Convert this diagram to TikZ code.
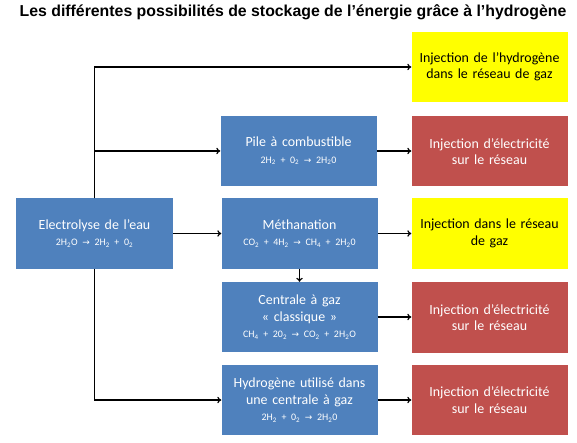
\documentclass[tikz,border=0pt]{standalone}
\usepackage{fontspec}
\setmainfont{Carlito}
\newfontfamily\titlefont{Liberation Sans}
\newfontfamily\djv{DejaVu Sans}
\usetikzlibrary{arrows.meta}
\definecolor{boxblue}{HTML}{4F81BD}
\definecolor{boxred}{HTML}{C0504D}
\definecolor{boxyellow}{HTML}{FFFF00}
\newcommand\sbs[1]{\textsubscript{#1}}
\newcommand\rarr{{\djv\fontsize{9}{10}\selectfont →}}
\newcommand\eqline[1]{{\fontsize{10}{11}\selectfont #1}}
\tikzset{
  basebox/.style={minimum width=156bp, minimum height=70bp, text width=152bp, align=center, inner sep=0pt, font=\fontsize{14}{16.5}\selectfont},
  bluebox/.style={basebox, fill=boxblue, text=white},
  redbox/.style={basebox, fill=boxred, text=white},
  yellowbox/.style={basebox, fill=boxyellow, text=black},
  conn/.style={line width=1.2pt, -{To[length=4pt,width=6.5pt]}}
}
\begin{document}
\begin{tikzpicture}[x=1bp,y=-1bp]
\useasboundingbox (0,0) rectangle (577,443);
\node[font=\titlefont\bfseries\fontsize{15.9}{18}\selectfont] (title) at (293,12) {Les différentes possibilités de stockage de l’énergie grâce à l’hydrogène};

\node[bluebox, minimum width=157bp] (elec) at (94.5,233.5) {Electrolyse de l’eau\\ \eqline{2H\sbs{2}O \rarr\ 2H\sbs{2} + 0\sbs{2}}};
\node[bluebox] (pile) at (298.5,151) {Pile à combustible\\ \eqline{2H\sbs{2} + 0\sbs{2} \rarr\ 2H\sbs{2}0}};
\node[bluebox] (meth) at (299.5,233.5) {Méthanation\\ \eqline{CO\sbs{2} + 4H\sbs{2} \rarr\ CH\sbs{4} + 2H\sbs{2}0}};
\node[bluebox] (cent) at (299.5,317) {Centrale à gaz\\ « classique »\\ \eqline{CH\sbs{4} + 20\sbs{2} \rarr\ CO\sbs{2} + 2H\sbs{2}O}};
\node[bluebox] (hyd) at (299.5,400) {Hydrogène utilisé dans\\ une centrale à gaz\\ \eqline{2H\sbs{2} + 0\sbs{2} \rarr\ 2H\sbs{2}0}};

\node[yellowbox] (y1) at (489.5,67) {Injection de l’hydrogène\\ dans le réseau de gaz};
\node[redbox] (r1) at (489.5,151.5) {Injection d’électricité\\ sur le réseau};
\node[yellowbox] (y2) at (489.5,233.5) {Injection dans le réseau\\ de gaz};
\node[redbox] (r2) at (489.5,317.5) {Injection d’électricité\\ sur le réseau};
\node[redbox] (r3) at (489.5,400) {Injection d’électricité\\ sur le réseau};

\draw[conn] (elec.north) |- (y1.west);
\draw[conn] (elec.north) |- (pile.west);
\draw[conn] (elec.east) -- (meth.west);
\draw[conn] (elec.south) |- (hyd.west);
\draw[conn] (pile.east) -- (r1.west |- pile.east);
\draw[conn] (meth.east) -- (y2.west |- meth.east);
\draw[conn] (meth.south) -- (cent.north);
\draw[conn] (cent.east) -- (r2.west |- cent.east);
\draw[conn] (hyd.east) -- (r3.west |- hyd.east);
\end{tikzpicture}
\end{document}
